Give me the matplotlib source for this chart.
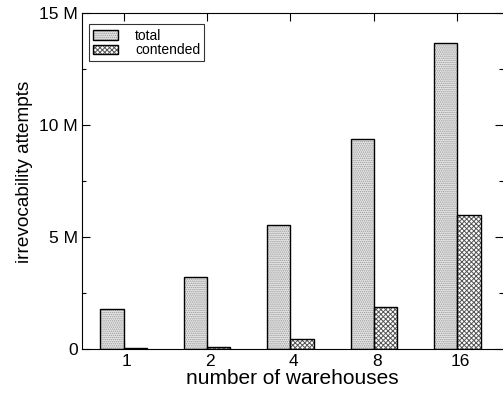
import matplotlib.pyplot as plt
from matplotlib.ticker import MultipleLocator, FuncFormatter
from matplotlib.patches import Patch
from matplotlib.legend_handler import HandlerTuple
import matplotlib.transforms as mtransforms
import numpy as np

plt.rcParams['font.family'] = ['Liberation Sans', 'DejaVu Sans']
plt.rcParams['hatch.linewidth'] = 0.7

warehouses = ["1", "2", "4", "8", "16"]
total = [1.76, 3.19, 5.51, 9.38, 13.69]        # millions
contended = [0.03, 0.06, 0.41, 1.87, 5.99]     # millions

fig = plt.figure(figsize=(5.03, 3.93), dpi=100)
ax = fig.add_axes([0.163, 0.113, 0.837, 0.853])

x = np.arange(len(warehouses))
w = 0.28

# fill patterns (grey hatch), then black outlines on top
tot_fill = dict(facecolor='#e6e6e6', edgecolor='#999999', hatch='........', linewidth=0)
con_fill = dict(facecolor='white', edgecolor='#555555', hatch='xxxxxxx', linewidth=0)
outline = dict(facecolor='none', edgecolor='black', linewidth=1.0)

ax.bar(x - w / 2, total, w, **tot_fill)
ax.bar(x - w / 2, total, w, **outline)
ax.bar(x + w / 2, contended, w, **con_fill)
ax.bar(x + w / 2, contended, w, **outline)

ax.set_xlim(-0.5, 4.548)
ax.set_ylim(0, 15)
ax.set_xticks(x)
ax.set_xticklabels(warehouses)
ax.yaxis.set_major_locator(MultipleLocator(5))
ax.yaxis.set_minor_locator(MultipleLocator(2.5))
ax.yaxis.set_major_formatter(FuncFormatter(lambda v, pos: "0" if v == 0 else "%d M" % v))

ax.tick_params(axis='both', which='both', direction='in', top=True, right=True,
               labelsize=12.5, width=0.8)
ax.tick_params(which='major', length=6)
ax.tick_params(which='minor', length=3)
ax.tick_params(axis='x', pad=4)
ax.tick_params(axis='y', pad=3)
ax.spines['right'].set_visible(False)

# nudge the x tick labels a little to the right
shift = mtransforms.ScaledTranslation(3 / 100, 0, fig.dpi_scale_trans)
for lab in ax.get_xticklabels():
    lab.set_transform(lab.get_transform() + shift)

ax.set_xlabel("number of warehouses", fontsize=15, labelpad=0)
ax.set_ylabel("irrevocability attempts", fontsize=13.7)
ax.yaxis.set_label_coords(-0.116, 0.527)

h_tot = (Patch(**tot_fill), Patch(**outline))
h_con = (Patch(**con_fill), Patch(**outline))
leg = ax.legend([h_tot, h_con], ['total', 'contended'],
                handler_map={tuple: HandlerTuple(ndivide=1, pad=0)},
                loc='upper left', bbox_to_anchor=(0.017, 0.967), fontsize=10,
                frameon=True, fancybox=False, handlelength=1.8, handleheight=0.7,
                borderpad=0.3, labelspacing=0.05, handletextpad=1.2, borderaxespad=0)
leg.get_frame().set_edgecolor('black')
leg.get_frame().set_linewidth(0.8)

fig.savefig("out.png", dpi=100)
